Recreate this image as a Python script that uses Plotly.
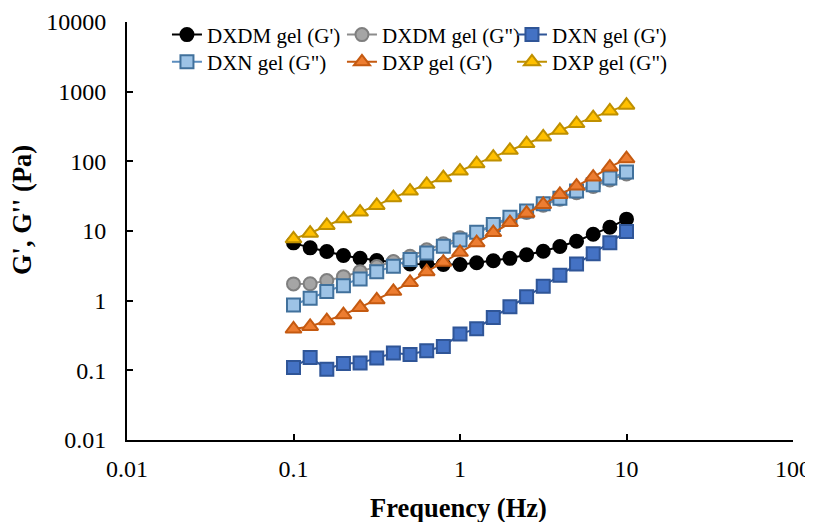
import plotly.graph_objects as go

freq = [0.1, 0.1259, 0.1585, 0.1995, 0.2512, 0.3162, 0.3981, 0.5012, 0.6310, 0.7943,
        1.0, 1.259, 1.585, 1.995, 2.512, 3.162, 3.981, 5.012, 6.310, 7.943, 10.0]

dxdm_g1 = [6.76, 5.73, 5.07, 4.44, 4.06, 3.77, 3.56, 3.37, 3.37, 3.30, 3.30,
           3.5, 3.75, 4.05, 4.57, 5.12, 6.0, 7.13, 9.0, 11.3, 14.8]
dxdm_g2 = [1.74, 1.75, 1.94, 2.21, 2.61, 3.09, 3.64, 4.34, 5.36, 6.55, 7.98,
           9.4, 12.0, 15.0, 18.5, 23.5, 28.5, 35.5, 43.5, 54, 66]
dxn_g1 = [0.110, 0.153, 0.104, 0.125, 0.127, 0.150, 0.177, 0.169, 0.191, 0.220, 0.332,
          0.396, 0.575, 0.82, 1.14, 1.61, 2.31, 3.37, 4.70, 6.76, 9.84]
dxn_g2 = [0.867, 1.08, 1.35, 1.64, 2.05, 2.61, 3.12, 3.89, 4.85, 6.04, 7.43,
          9.6, 12.4, 15.8, 19.3, 24.6, 29.6, 37.4, 46.2, 57.5, 70.2]
dxp_g1 = [0.392, 0.427, 0.516, 0.629, 0.80, 1.03, 1.36, 1.83, 2.61, 3.56, 4.95,
          6.8, 9.5, 13.2, 18.0, 24.0, 33.5, 44.1, 59.5, 82.8, 109]
dxp_g2 = [7.72, 9.3, 12.0, 14.96, 18.7, 23.3, 30.1, 37.4, 46.7, 58.2, 72.6,
          92.7, 115, 144, 180, 224, 279, 348, 425, 528, 640]

x_ticks = [0.01, 0.1, 1, 10, 100]
x_ticklabels = ["0.01", "0.1", "1", "10", "100"]
y_ticks = [0.01, 0.1, 1, 10, 100, 1000, 10000]
y_ticklabels = ["0.01", "0.1", "1", "10", "100", "1000", "10000"]

series_names = ["DXDM gel (G')", 'DXDM gel (G")', "DXN gel (G')",
                'DXN gel (G")', "DXP gel (G')", 'DXP gel (G")']
series_vals = [dxdm_g1, dxdm_g2, dxn_g1, dxn_g2, dxp_g1, dxp_g2]
styles = [
    dict(symbol="circle", fill="#000000", edge="#000000", line="#000000"),
    dict(symbol="circle", fill="#A5A5A5", edge="#7F7F7F", line="#8C8C8C"),
    dict(symbol="square", fill="#4472C4", edge="#2F5597", line="#2F5597"),
    dict(symbol="square", fill="#9DC3E6", edge="#41719C", line="#5B8DBE"),
    dict(symbol="triangle-up", fill="#ED7D31", edge="#C55A11", line="#C55A11"),
    dict(symbol="triangle-up", fill="#FFC000", edge="#BF9000", line="#BF9000"),
]
legend_ids = ["legend", "legend", "legend", "legend2", "legend2", "legend2"]
legend_widths = [130, 125, 125, 130, 125, 125]

fig = go.Figure()
for name, vals, st, lg, lw in zip(series_names, series_vals, styles, legend_ids, legend_widths):
    fig.add_trace(go.Scatter(
        x=freq, y=vals, name=name, mode="lines+markers",
        legend=lg, legendwidth=lw,
        line=dict(color=st["line"], width=2),
        marker=dict(symbol=st["symbol"], size=13 if st["symbol"] != "triangle-up" else 14,
                    color=st["fill"], line=dict(color=st["edge"], width=2)),
    ))

font_family = "Liberation Serif"
legend_common = dict(orientation="h", xanchor="left", yanchor="middle",
                     font=dict(size=21, family=font_family), bgcolor="rgba(0,0,0,0)",
                     itemwidth=30)

# Page body has an 8px default margin; figure sized so the plot area sits at
# page pixels x 127..793, y 22..440.
fig.update_layout(
    width=805, height=514,
    margin=dict(l=119, r=20, t=14, b=82, autoexpand=False),
    paper_bgcolor="white", plot_bgcolor="white",
    font=dict(family=font_family, color="black", size=22),
    showlegend=True,
    legend=dict(x=0.060, y=0.969, **legend_common),
    legend2=dict(x=0.060, y=0.904, **legend_common),
    xaxis=dict(type="log", range=[-2, 2], showgrid=False, zeroline=False,
               showline=True, linecolor="black", linewidth=2, mirror=False,
               automargin=False,
               ticks="inside", ticklen=6, tickwidth=1.5, tickcolor="black",
               tickvals=x_ticks, ticktext=x_ticklabels,
               tickfont=dict(size=24, family=font_family),
               ticklabelstandoff=6),
    yaxis=dict(type="log", range=[-2, 4], showgrid=False, zeroline=False,
               showline=True, linecolor="black", linewidth=2, mirror=False,
               automargin=False,
               ticks="inside", ticklen=6, tickwidth=1.5, tickcolor="black",
               tickvals=y_ticks, ticktext=y_ticklabels,
               tickfont=dict(size=24, family=font_family),
               ticklabelstandoff=14),
    annotations=[
        dict(text="<b>Frequency (Hz)</b>", xref="paper", yref="paper",
             x=0.497, y=0, yshift=-68, xanchor="center", yanchor="middle",
             showarrow=False, font=dict(size=26.5, family=font_family)),
        dict(text="<b>G', G'' (Pa)</b>", xref="paper", yref="paper",
             x=0, xshift=-105, y=0.550, xanchor="center", yanchor="middle",
             textangle=-90, showarrow=False, font=dict(size=26.5, family=font_family)),
    ],
)

fig.write_html("out.html")
